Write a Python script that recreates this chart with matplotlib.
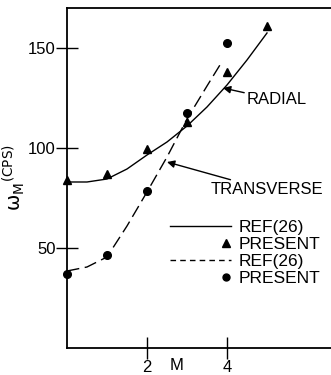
import matplotlib
matplotlib.use("Agg")
import matplotlib.pyplot as plt
from matplotlib.lines import Line2D
from matplotlib.legend_handler import HandlerLine2D
from matplotlib.transforms import blended_transform_factory

plt.rcParams["font.family"] = ["Liberation Sans", "DejaVu Sans"]

# radial mode: present results (triangles) and REF(26) curve (solid)
radial_x = [0, 1, 2, 3, 4, 5]
radial_y = [84, 87, 99.5, 113, 138, 161]
radial_curve_x = [0, 0.5, 1, 1.5, 2, 2.5, 3, 3.5, 4, 4.5, 5]
radial_curve_y = [83, 83, 84.5, 89.5, 96.5, 103, 111, 120.5, 131.5, 144, 157.5]

# transverse mode: present results (circles) and REF(26) curve (dashed)
trans_x = [0, 1, 2, 3, 4]
trans_y = [37, 46.5, 78.5, 117.5, 152.5]
trans_curve_x = [0, 0.5, 1, 1.5, 2, 2.5, 3, 3.5, 3.87]
trans_curve_y = [38.5, 40.5, 45.5, 61, 78, 95.5, 114.5, 131, 143]

xticks = [2, 4]
yticks = [50, 100, 150]


class EndMarkerHandler(HandlerLine2D):
    # marker sits near the right end of the handle, not in the middle
    def get_xdata(self, legend, xdescent, ydescent, width, height, fontsize):
        m = -xdescent + width - 0.25 * fontsize
        return [m - 1, m + 1], [m]


fig = plt.figure(figsize=(3.31, 3.75), dpi=100)
ax = fig.add_axes([0.2024, 0.072, 0.7976, 0.9067])

ax.plot(radial_curve_x, radial_curve_y, color="black", lw=1.0)
ax.plot(trans_curve_x, trans_curve_y, color="black", lw=1.0, dashes=(9, 4))
ax.plot(radial_x, radial_y, ls="none", marker="^", ms=6, color="black", clip_on=False)
ax.plot(trans_x, trans_y, ls="none", marker="o", ms=5.5, color="black", clip_on=False)

ax.set_xlim(0, 6.6)
ax.set_ylim(0, 170)
ax.set_xticks(xticks)
ax.set_xticklabels([str(v) for v in xticks])
ax.set_yticks(yticks)
ax.set_yticklabels([str(v) for v in yticks])
ax.tick_params(direction="inout", length=16, width=1.0, labelsize=12, pad=0)
ax.tick_params(axis="x", pad=1)
ax.spines["right"].set_visible(False)
for s in ["left", "top", "bottom"]:
    ax.spines[s].set_linewidth(1.3)

ax.set_xlabel("M", fontsize=12)
ax.xaxis.set_label_coords(2.75, -0.028, transform=blended_transform_factory(ax.transData, ax.transAxes))
ax.xaxis.label.set_verticalalignment("top")
ax.set_ylabel(r"$\mathrm{\omega_M}^{\mathrm{(CPS)}}$", fontsize=14, labelpad=1)

arrow = dict(arrowstyle="-|>", color="black", lw=1.0, mutation_scale=11, shrinkA=0, shrinkB=0)
ax.annotate("RADIAL", xy=(3.9, 130), xytext=(4.5, 124), ha="left", va="center",
            fontsize=12, arrowprops=arrow)
ax.annotate("TRANSVERSE", xy=(2.5, 93), xytext=(3.6, 79), ha="left", va="center",
            fontsize=12, arrowprops=arrow)

handles = [
    Line2D([], [], color="black", lw=1.0),
    Line2D([], [], ls="none", marker="^", ms=6, color="black"),
    Line2D([], [], color="black", lw=1.0, dashes=(4, 3)),
    Line2D([], [], ls="none", marker="o", ms=5, color="black"),
]
labels = ["REF(26)", "PRESENT", "REF(26)", "PRESENT"]
ax.legend(handles, labels, loc="upper left", bbox_to_anchor=(0.39, 0.378),
          frameon=False, fontsize=12.5, handlelength=3.5, handletextpad=0.45,
          labelspacing=0.12, borderpad=0, borderaxespad=0, handleheight=0.7,
          handler_map={handles[1]: EndMarkerHandler(numpoints=1),
                       handles[3]: EndMarkerHandler(numpoints=1)})

fig.savefig("out.png", dpi=100)
